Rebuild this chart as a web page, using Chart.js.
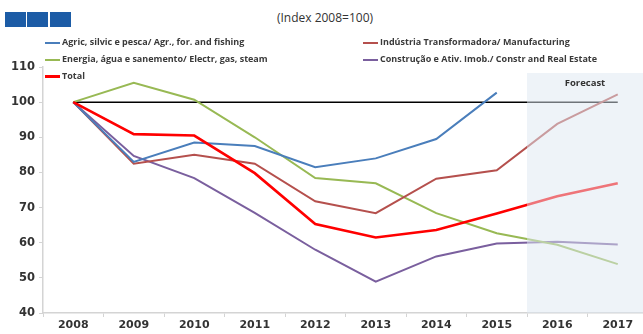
<!DOCTYPE html>
<html>
<head>
<meta charset="utf-8">
<script src="https://cdn.jsdelivr.net/npm/chart.js@4"></script>
<style>
  body { margin: 0; overflow: hidden; background: #fff; font-family: "Open Sans", sans-serif; }
  #wrap { position: relative; width: 650px; height: 334px; }
  #chart { position: absolute; left: 0; top: 0; }
  .logo { position: absolute; top: 12px; width: 21px; height: 15px; background: #1c5ca6; }
  #title { position: absolute; left: 0; width: 650px; top: 9px; text-align: center; font-size: 12px; color: #333; }
  .leg { position: absolute; font-size: 9px; font-weight: bold; color: #3a3a3a; white-space: nowrap; line-height: 12px; }
  .leg span { display: inline-block; width: 15px; vertical-align: middle; margin-right: 2px; }
</style>
</head>
<body>
<div id="wrap">
  <div class="logo" style="left:5px"></div>
  <div class="logo" style="left:27px"></div>
  <div class="logo" style="left:50px"></div>
  <div id="title">(Index 2008=100)</div>
  <canvas id="chart" width="650" height="334"></canvas>
</div>
<script>
// Data
const years = ['2008', '2009', '2010', '2011', '2012', '2013', '2014', '2015', '2016', '2017'];
const agric = [100, 83, 88.5, 87.5, 81.5, 84, 89.5, 102.7, null, null];
const manufacturing = [100, 82.5, 85, 82.5, 71.8, 68.4, 78.2, 80.6, 93.8, 102.2];
const energy = [100, 105.5, 100.7, 90, 78.4, 76.9, 68.4, 62.7, 59.4, 53.9];
const construction = [100, 84.7, 78.4, 68.5, 58, 48.9, 56.1, 59.8, 60.3, 59.5];
const total = [100, 90.9, 90.5, 79.8, 65.3, 61.5, 63.6, 68.3, 73.2, 76.9];
const baseline = [100, 100, 100, 100, 100, 100, 100, 100, 100, 100];
const names = [
    'Agric, silvic e pesca/ Agr., for. and fishing',
    'Indústria Transformadora/ Manufacturing',
    'Energia, água e sanemento/ Electr, gas, steam',
    'Construção e Ativ. Imob./ Constr and Real Estate',
    'Total'
];
// End data

const colors = ['#4a7ebb', '#b5504d', '#98b954', '#7a5f9e', '#ff0000'];
const widths = [2, 2, 2, 2, 2.6];
const series = [agric, manufacturing, energy, construction, total];

// legend, two columns laid out row by row
const legendPos = [[45, 36], [363, 36], [45, 53], [363, 53], [45, 70]];
names.forEach((name, i) => {
    const el = document.createElement('div');
    el.className = 'leg';
    el.style.left = legendPos[i][0] + 'px';
    el.style.top = legendPos[i][1] + 'px';
    el.innerHTML = '<span style="height:' + Math.round(widths[i]) + 'px;background:' + colors[i] + '"></span>' + name;
    document.getElementById('wrap').appendChild(el);
});

const forecastShade = {
    id: 'forecastShade',
    afterDatasetsDraw(chart) {
        const ctx = chart.ctx;
        const x = chart.scales.x;
        const area = chart.chartArea;
        const left = (x.getPixelForValue(7) + x.getPixelForValue(8)) / 2;
        const top = area.top + 6;
        ctx.save();
        ctx.fillStyle = 'rgba(222, 231, 241, 0.5)';
        ctx.fillRect(left, top, area.right - left, area.bottom - top);
        ctx.fillStyle = '#333';
        ctx.font = 'bold 9.5px "Open Sans"';
        ctx.textAlign = 'center';
        ctx.textBaseline = 'middle';
        ctx.fillText('Forecast', (left + 643) / 2, 83);
        ctx.restore();
    }
};

const datasets = [];
[4, 0, 1, 2, 3].forEach(i => {
    datasets.push({
        label: names[i],
        data: series[i],
        borderColor: colors[i],
        borderWidth: widths[i],
        pointRadius: 0,
        tension: 0,
        fill: false
    });
});
datasets.push({
    label: 'base',
    data: baseline,
    borderColor: '#000',
    borderWidth: 1.5,
    pointRadius: 0,
    fill: false
});

new Chart(document.getElementById('chart'), {
    type: 'line',
    data: { labels: years, datasets: datasets },
    options: {
        responsive: false,
        animation: false,
        layout: { padding: { top: 67, right: 2, left: 0, bottom: 0 } },
        plugins: { legend: { display: false }, tooltip: { enabled: false } },
        scales: {
            x: {
                offset: true,
                grid: { offset: true, drawOnChartArea: false, tickLength: 4, color: '#d4d4d4' },
                border: { color: '#d4d4d4', width: 1.5 },
                ticks: { color: '#333', font: { family: 'DejaVu Sans', weight: 'bold', size: 11 }, padding: 2, maxRotation: 0 },
                afterFit: (scale) => { scale.height = 21; }
            },
            y: {
                min: 40,
                max: 110,
                ticks: { stepSize: 10, color: '#333', font: { family: 'DejaVu Sans', weight: 'bold', size: 11.5 }, padding: 4 },
                grid: { drawOnChartArea: false, tickLength: 4, color: '#d4d4d4' },
                border: { color: '#d4d4d4', width: 1.5 },
                afterFit: (scale) => { scale.width = 43; }
            }
        }
    },
    plugins: [forecastShade]
});
</script>
</body>
</html>
